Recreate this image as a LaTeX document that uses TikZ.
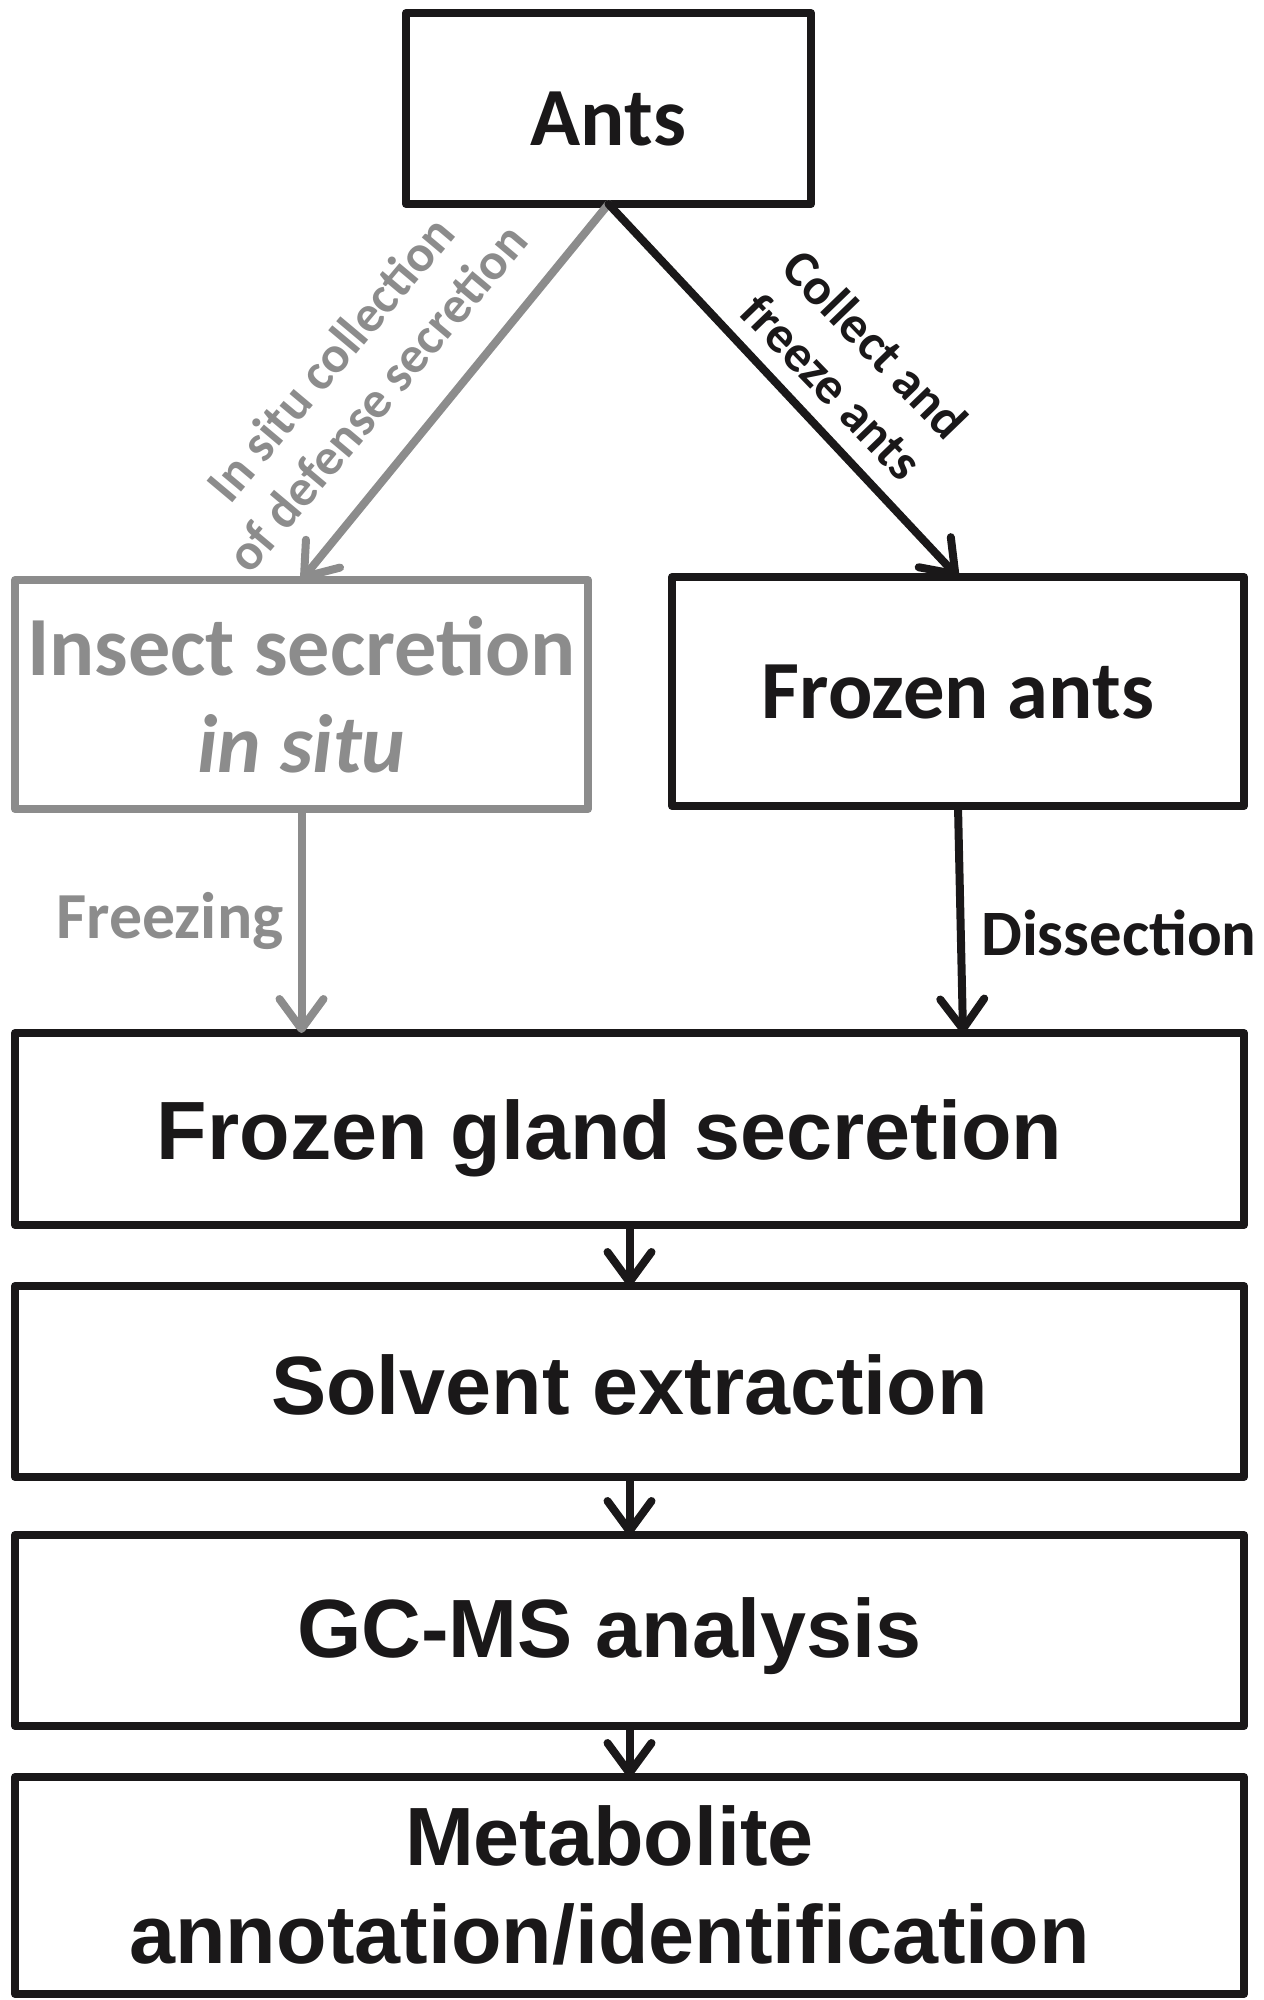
\documentclass[tikz,border=0pt]{standalone}
\usepackage{fontspec}
\setmainfont{Liberation Sans}
\newfontfamily\calib{Carlito}
\usetikzlibrary{arrows.meta}
\definecolor{inkblack}{RGB}{26,24,25}
\definecolor{inkgray}{RGB}{140,140,140}
\begin{document}
\begin{tikzpicture}[x=1bp,y=-1bp,line join=round,
  box/.style={draw,rectangle,inner sep=0pt,outer sep=0pt,line width=8bp,align=center},
  flow/.style={-{Straight Barb[length=30bp,width=44bp,line cap=round,line join=round]},line width=8bp,line cap=round},
  toptext/.style={font=\calib\bfseries\fontsize{83}{97}\selectfont},
  bottext/.style={font=\bfseries\fontsize{83}{98}\selectfont,align=center,text=inkblack},
  edgetext/.style={font=\calib\bfseries\fontsize{52}{61}\selectfont,align=center},
  ]
\useasboundingbox (0,0) rectangle (1263,2000);
  % Node: Ants
  \node[box,draw=inkblack,minimum width=405bp,minimum height=191bp] (ants) at (608.5,108.5) {};
  \node[toptext,text=inkblack] (antstext) at ([yshift=-10bp]ants.center) {Ants};
  % Node: Insect secretion
  \node[box,toptext,draw=inkgray,text=inkgray,minimum width=573bp,minimum height=229bp] (insect) at (301.5,694.5) {\fontsize{84.5}{97}\selectfont Insect secretion\\\itshape in situ};
  % Node: Frozen ants
  \node[box,toptext,draw=inkblack,text=inkblack,minimum width=572bp,minimum height=229bp] (frozen) at (958,691.5) {Frozen ants};
  % Node: Frozen gland secretion
  \node[box,draw=inkblack,minimum width=1229bp,minimum height=192bp] (gland) at (629.5,1129) {};
  \node[bottext] (glandtext) at ([xshift=-20bp,yshift=-9bp]gland.center) {Frozen gland secretion};
  % Node: Solvent extraction
  \node[box,draw=inkblack,minimum width=1229bp,minimum height=191bp] (solvent) at (629.5,1381.5) {};
  \node[bottext] (solventtext) at ([yshift=-3bp]solvent.center) {Solvent extraction};
  % Node: GC-MS analysis
  \node[box,draw=inkblack,minimum width=1229bp,minimum height=191bp] (gcms) at (629.5,1630.5) {};
  \node[bottext] (gcmstext) at ([xshift=-20bp,yshift=-6bp]gcms.center) {GC-MS analysis};
  % Node: Metabolite annotation
  \node[box,draw=inkblack,minimum width=1229bp,minimum height=217bp] (metab) at (629.5,1885.5) {};
  \node[bottext] (metabtext) at ([xshift=-20bp]metab.center) {Metabolite\\annotation/identification};
  % Edge: Ants -> Insect secretion
  \draw[flow,inkgray] (ants.south) -- (insect.north);
  \node[edgetext,text=inkgray,rotate=50] (collect) at (353,378) {In situ collection\\of defense secretion};
  % Edge: Ants -> Frozen ants
  \draw[flow,inkblack] (ants.south) -- (frozen.north);
  \node[edgetext,text=inkblack,rotate=-46] (freeze) at (854,365) {Collect and\\freeze ants};
  % Edge: Insect secretion -> Frozen gland secretion
  \draw[flow,inkgray] (insect.south) -- (insect.south |- gland.north);
  \node[font=\calib\bfseries\fontsize{66}{70}\selectfont,text=inkgray] (freezing) at (170,921) {Freezing};
  % Edge: Frozen ants -> Frozen gland secretion
  \draw[flow,inkblack] (frozen.south) -- ([xshift=5bp]frozen.south |- gland.north);
  \node[font=\calib\bfseries\fontsize{65}{70}\selectfont,text=inkblack] (dissection) at (1119,933) {Dissection};
  % Edge: Frozen gland secretion -> Solvent extraction
  \draw[flow,inkblack] (gland.south) -- (solvent.north);
  % Edge: Solvent extraction -> GC-MS analysis
  \draw[flow,inkblack] (solvent.south) -- (gcms.north);
  % Edge: GC-MS analysis -> Metabolite annotation
  \draw[flow,inkblack] (gcms.south) -- (metab.north);
\end{tikzpicture}
\end{document}
